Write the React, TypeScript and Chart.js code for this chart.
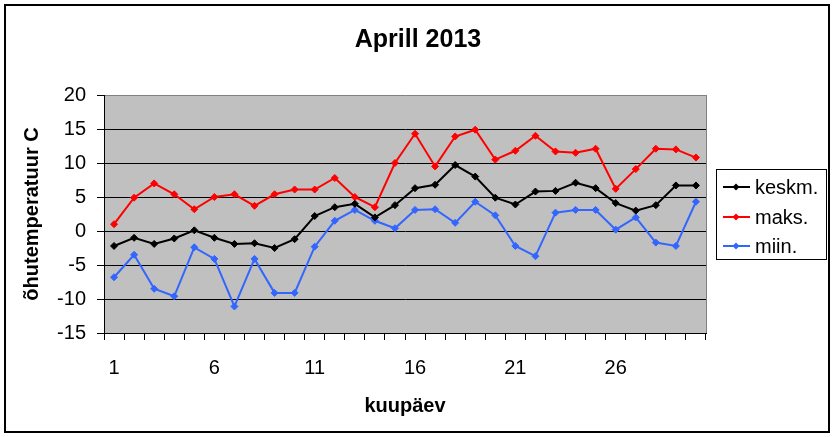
import React, { useEffect, useRef } from "react";
import { Chart, registerables } from "chart.js";

Chart.register(...registerables);

const days: string[] = Array.from({ length: 30 }, (_, i) => String(i + 1));
const keskm: number[] = [-2.2, -1.0, -1.9, -1.1, 0.1, -1.0, -1.9, -1.8, -2.5, -1.2, 2.2, 3.5, 4.0, 2.0, 3.8, 6.3, 6.8, 9.7, 8.0, 4.9, 3.9, 5.8, 5.9, 7.1, 6.3, 4.1, 3.0, 3.8, 6.7, 6.7];
const maks: number[] = [1.0, 4.9, 7.0, 5.4, 3.2, 5.0, 5.4, 3.7, 5.4, 6.1, 6.1, 7.8, 5.0, 3.5, 10.0, 14.3, 9.5, 13.9, 14.9, 10.5, 11.8, 14.0, 11.7, 11.5, 12.1, 6.2, 9.1, 12.1, 12.0, 10.8];
const miin: number[] = [-6.8, -3.5, -8.5, -9.6, -2.4, -4.1, -11.1, -4.1, -9.1, -9.1, -2.3, 1.5, 3.1, 1.5, 0.4, 3.1, 3.2, 1.2, 4.3, 2.3, -2.2, -3.7, 2.7, 3.1, 3.1, 0.2, 2.0, -1.7, -2.2, 4.3];
const seriesNames: string[] = ["keskm.", "maks.", "miin."];
const seriesColors: string[] = ["#000000", "#FF0000", "#3366FF"];
const yTicksMin = -15;
const yTicksMax = 20;
const yStep = 5;
const titleText = "Aprill 2013";
const xTitle = "kuupäev";
const yTitle = "õhutemperatuur C";

const FONT = "'Liberation Sans', Arial, sans-serif";

const decorPlugin = {
  id: "decor",
  beforeDraw(chart: any) {
    const { ctx, chartArea } = chart;
    ctx.save();
    ctx.fillStyle = "#FFFFFF";
    ctx.fillRect(0, 0, chart.width, chart.height);
    ctx.fillStyle = "#C0C0C0";
    ctx.fillRect(chartArea.left, chartArea.top, chartArea.right - chartArea.left, chartArea.bottom - chartArea.top);
    ctx.restore();
  },
  afterDraw(chart: any) {
    const { ctx, chartArea } = chart;
    ctx.save();
    // plot right border (gray)
    ctx.strokeStyle = "#808080";
    ctx.lineWidth = 1;
    ctx.beginPath();
    ctx.moveTo(chartArea.right + 0.5, chartArea.top);
    ctx.lineTo(chartArea.right + 0.5, chartArea.bottom);
    ctx.stroke();
    // outer border
    ctx.strokeStyle = "#000000";
    ctx.lineWidth = 2;
    ctx.strokeRect(5, 5, 824, 427);
    // title
    ctx.fillStyle = "#000000";
    ctx.font = `bold 25px ${FONT}`;
    ctx.textAlign = "center";
    ctx.textBaseline = "middle";
    ctx.fillText(titleText, 418, 40);
    // legend
    ctx.lineWidth = 1;
    ctx.strokeStyle = "#000000";
    ctx.strokeRect(716.5, 169.5, 110, 90);
    ctx.font = `20px ${FONT}`;
    ctx.textAlign = "left";
    const ys = [187, 217, 246];
    seriesNames.forEach((name, i) => {
      const y = ys[i];
      ctx.strokeStyle = seriesColors[i];
      ctx.fillStyle = seriesColors[i];
      ctx.lineWidth = 2;
      ctx.beginPath();
      ctx.moveTo(723, y);
      ctx.lineTo(750, y);
      ctx.stroke();
      ctx.beginPath();
      ctx.moveTo(736, y - 3.5);
      ctx.lineTo(739.5, y);
      ctx.lineTo(736, y + 3.5);
      ctx.lineTo(732.5, y);
      ctx.closePath();
      ctx.fill();
      ctx.fillStyle = "#000000";
      ctx.fillText(name, 755, y + 1);
    });
    ctx.restore();
  },
};

export default function App() {
  const ref = useRef<HTMLCanvasElement | null>(null);
  useEffect(() => {
    if (!ref.current) return;
    const data = [keskm, maks, miin];
    const chart = new Chart(ref.current, {
      type: "line",
      data: {
        labels: days,
        datasets: data.map((d, i) => ({
          label: seriesNames[i],
          data: d,
          borderColor: seriesColors[i],
          backgroundColor: seriesColors[i],
          borderWidth: 2,
          pointStyle: "rectRot",
          pointRadius: 3.5,
          pointBorderWidth: 1,
          tension: 0,
          fill: false,
        })),
      },
      options: {
        animation: false,
        responsive: false,
        devicePixelRatio: 1,
        layout: { padding: { top: 95, right: 129, bottom: 0, left: 0 } },
        plugins: {
          legend: { display: false },
          title: { display: false },
          tooltip: { enabled: false },
        },
        scales: {
          x: {
            type: "category",
            offset: true,
            grid: {
              display: true,
              drawOnChartArea: false,
              drawTicks: true,
              tickLength: 7,
              offset: true,
              color: "#000000",
              tickColor: "#000000",
            },
            border: { display: true, color: "#000000", width: 1 },
            ticks: {
              autoSkip: false,
              maxRotation: 0,
              padding: 16,
              color: "#000000",
              font: { family: FONT, size: 20 },
              callback: (_v: any, idx: number) => (idx % 5 === 0 ? days[idx] : ""),
            },
            title: {
              display: true,
              text: xTitle,
              color: "#000000",
              font: { family: FONT, size: 20, weight: "bold" },
              padding: { top: 0, bottom: 19 },
            },
            afterFit: (s: any) => {
              s.height = 104;
            },
          },
          y: {
            min: yTicksMin,
            max: yTicksMax,
            ticks: {
              stepSize: yStep,
              padding: 11,
              color: "#000000",
              font: { family: FONT, size: 20 },
            },
            grid: {
              drawTicks: true,
              tickLength: 7,
              color: (c: any) => (c.tick && c.tick.value === yTicksMax ? "#808080" : "#000000"),
              tickColor: "#000000",
            },
            border: { display: true, color: "#000000", width: 1 },
            title: {
              display: true,
              text: yTitle,
              color: "#000000",
              font: { family: FONT, size: 20, weight: "bold" },
              padding: { top: 20, bottom: 0 },
            },
            afterFit: (s: any) => {
              s.width = 104;
            },
          },
        },
      },
      plugins: [decorPlugin],
    } as any);
    return () => chart.destroy();
  }, []);
  return (
    <div style={{ position: "fixed", left: 0, top: 0, width: 835, height: 437, background: "#fff" }}>
      <canvas ref={ref} width={835} height={437} style={{ width: 835, height: 437, display: "block" }} />
    </div>
  );
}
